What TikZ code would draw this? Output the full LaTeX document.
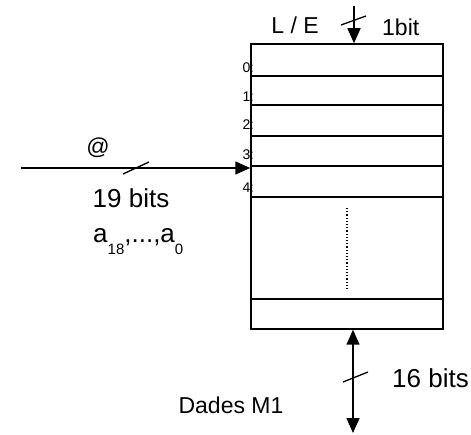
\documentclass[tikz,border=0pt]{standalone}
\usepackage{fontspec}
\setmainfont{Liberation Sans}
\usetikzlibrary{arrows.meta}
\tikzset{
  wire/.style={line width=1.5pt},
  tick/.style={line width=1.3pt},
  tip/.style={-{Triangle[length=15pt,width=13pt]}},
  lbl/.style={font=\fontsize{23}{23}\selectfont, inner sep=0pt},
  biglbl/.style={font=\fontsize{26}{26}\selectfont, inner sep=0pt},
  idx/.style={font=\fontsize{14}{14}\selectfont, inner sep=0pt, anchor=east},
  row/.style={line width=1.5pt}
}
\newcommand{\subtxt}[1]{\raisebox{-12pt}{\fontsize{15}{15}\selectfont #1}}
\begin{document}
\begin{tikzpicture}[x=1pt,y=-1pt]
\useasboundingbox (0,0) rectangle (471,435);
% row indices (drawn first so the box line covers the colon)
\node[idx] (i0) at (254.5,68) {0\textcolor{gray}{:}};
\node[idx] (i1) at (254.5,97) {1\textcolor{gray}{:}};
\node[idx] (i2) at (254.5,125) {2\textcolor{gray}{:}};
\node[idx] (i3) at (254.5,155) {3\textcolor{gray}{:}};
\node[idx] (i4) at (254.5,188) {4\textcolor{gray}{:}};
% memory box
\node[draw, line width=1.5pt, minimum width=192pt, minimum height=285pt, inner sep=0pt] (mem) at (347,186.5) {};
\foreach \yy in {76,105,136,166,197,299}{
  \draw[row] (mem.west |- 0,\yy) -- (mem.east |- 0,\yy);
}
\draw[line width=1.2pt, dotted] (347,208) -- (347,289);
% top control input
\coordinate (ctop) at (354,6);
\draw[wire, tip] (ctop) -- (ctop |- mem.north);
\draw[tick] (341,25) -- (366,16);
\node[lbl] (le) at (295,25) {L / E};
\node[lbl, anchor=west] (onebit) at (382,27) {1bit};
% address input
\coordinate (ain) at (21,168);
\draw[wire, tip] (ain) -- (ain -| mem.west);
\draw[tick] (123,174) -- (149,162);
\node[lbl] (at) at (98,148) {@};
\node[biglbl] (nb) at (131,198) {19 bits};
\node[biglbl, anchor=base west] (addr) at (93,243) {a\subtxt{18},...,a\subtxt{0}};
% data bus
\coordinate (dbot) at (353,433);
\draw[wire, {Triangle[length=15pt,width=13pt]}-{Triangle[length=15pt,width=13pt]}] (dbot |- mem.south) -- (dbot);
\draw[tick] (343,382) -- (368,372);
\node[biglbl, anchor=west] (sb) at (392,378) {16 bits};
\node[lbl] (dm) at (231,405) {Dades M1};
\end{tikzpicture}
\end{document}
